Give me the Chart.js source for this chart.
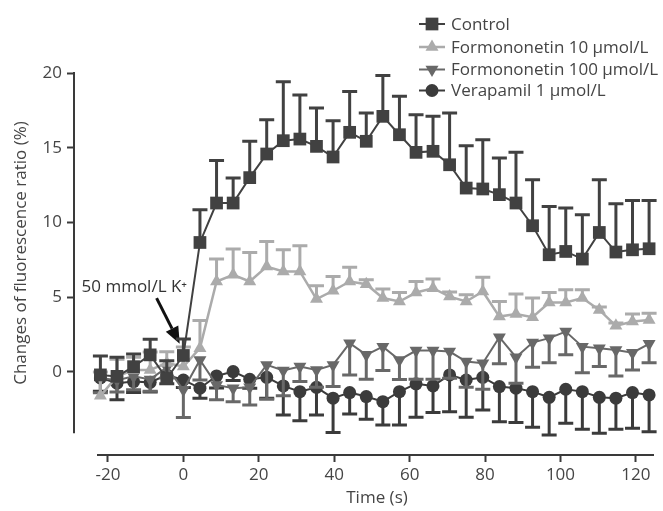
<!DOCTYPE html>
<html><head><meta charset="utf-8">
<script src="https://cdn.jsdelivr.net/npm/chart.js@4.4.1/dist/chart.umd.min.js"></script>
<style>html,body{margin:0;padding:0;background:#fff;}</style>
</head><body>
<canvas id="c" width="663" height="511"></canvas>
<script>
// ---- data ----
const timeSec = [-22.0,-17.6,-13.2,-8.8,-4.4,0,4.4,8.8,13.2,17.6,22.1,26.5,30.9,35.3,39.7,44.1,48.5,52.9,57.3,61.7,66.2,70.6,75.0,79.4,83.8,88.2,92.6,97.0,101.4,105.8,110.3,114.7,119.1,123.5];

const controlMean = [-0.2,-0.3,0.35,1.14,-0.45,1.1,8.66,11.3,11.3,13.0,14.58,15.47,15.58,15.09,14.38,16.03,15.43,17.1,15.87,14.69,14.76,13.86,12.3,12.24,11.86,11.3,9.78,7.84,8.06,7.55,9.33,8.02,8.17,8.24];
const controlErr  = [1.27,1.28,0.85,1.05,1.2,1.1,2.19,2.85,1.67,2.43,2.3,3.95,2.95,2.57,2.43,2.74,1.9,2.73,2.57,2.52,2.34,3.47,2.84,3.3,2.45,3.39,3.08,3.23,2.9,2.97,3.53,3.23,3.3,3.23];

const formo10Mean = [-1.6,-0.3,0.13,0.13,0.6,0.36,1.59,6.05,6.5,6.05,7.05,6.72,6.72,4.87,5.43,6.05,5.87,4.94,4.71,5.31,5.6,5.04,4.71,5.38,3.7,3.88,3.66,4.64,4.64,4.94,4.15,3.08,3.37,3.48];
const formo10Err  = [1.6,1.15,0.85,1.2,0.75,1.3,1.85,1.5,1.72,1.94,1.68,1.45,1.72,0.89,0.95,0.96,0.3,0.6,0.6,0.74,0.61,0.3,0.45,0.96,1.01,1.34,1.28,0.67,0.85,0.55,0.2,0.2,0.51,0.45];

const formo100Mean = [-0.4,-0.55,-0.3,-0.5,0.3,-1.2,0.8,-0.87,-1.09,-1.03,0.47,0.09,0.36,0.13,0.47,1.92,1.14,1.69,0.8,1.43,1.43,1.36,0.69,0.58,2.32,0.98,1.96,2.26,2.7,1.69,1.59,1.47,1.29,1.88];
const formo100Err  = [1.0,0.8,0.9,0.8,0.7,1.85,1.34,1.0,0.9,1.18,2.3,1.69,1.01,1.16,1.45,2.12,1.63,1.6,1.3,1.92,1.92,1.78,1.72,1.74,1.78,1.74,1.65,1.64,1.56,1.74,1.23,1.74,1.16,1.26];

const verapMean = [-0.4,-0.76,-0.65,-0.7,-0.2,-0.54,-1.09,-0.27,0.02,-0.49,-0.36,-0.94,-1.32,-1.03,-1.76,-1.38,-1.65,-1.99,-1.32,-0.8,-0.94,-0.2,-0.54,-0.36,-0.98,-1.09,-1.32,-1.7,-1.16,-1.32,-1.7,-1.76,-1.38,-1.54];
const verapErr  = [0.9,1.1,0.73,0.65,0.6,0.5,0.67,0.8,0.6,0.6,1.4,1.94,1.94,1.85,2.3,1.43,1.52,1.56,2.23,2.24,1.78,2.46,2.5,2.19,2.35,2.3,2.39,2.52,2.28,2.52,2.41,2.08,2.39,2.46];

const seriesNames = ['Control','Formononetin 10 µmol/L','Formononetin 100 µmol/L','Verapamil 1 µmol/L'];
const xTicks = [-20,0,20,40,60,80,100,120];
const yTicks = [0,5,10,15,20];
const xTitle = 'Time (s)';
const yTitle = 'Changes of fluorescence ratio (%)';
const stimLabel = '50 mmol/L K\u207A';

// ---- styling / layout ----
const FONT = "'Open Sans', sans-serif";
const TXT = '#454545';
const AX = '#3a3a3a';
const X_MIN = -29.0, X_MAX = 124.8, Y_MIN = -5.56, Y_MAX = 20;
const X_AXIS_START = -22.9, Y_AXIS_END = -4.1;

const styles = [
  {color:'#414141', pointStyle:'rect', radius:9, rotation:0, lw:2, dir:1},
  {color:'#ababab', pointStyle:'triangle', radius:7.5, rotation:0, lw:2.5, dir:1},
  {color:'#686868', pointStyle:'triangle', radius:7.5, rotation:180, lw:2, dir:-1},
  {color:'#3b3b3b', pointStyle:'circle', radius:6.5, rotation:0, lw:2, dir:-1}
];
const means = [controlMean, formo10Mean, formo100Mean, verapMean];
const errs = [controlErr, formo10Err, formo100Err, verapErr];

const datasets = seriesNames.map((name, s) => ({
  label: name,
  data: timeSec.map((t, i) => ({x: t, y: means[s][i]})),
  errs: errs[s],
  errDir: styles[s].dir,
  borderColor: styles[s].color,
  backgroundColor: styles[s].color,
  pointBackgroundColor: styles[s].color,
  pointBorderColor: styles[s].color,
  pointBorderWidth: 0,
  pointStyle: styles[s].pointStyle,
  pointRadius: styles[s].radius,
  pointRotation: styles[s].rotation,
  borderWidth: styles[s].lw,
  tension: 0,
  clip: false
}));

const errorBarPlugin = {
  id: 'errorBars',
  beforeDatasetDraw(chart, args) {
    const ds = chart.data.datasets[args.index];
    const ys = chart.scales.y;
    const ctx = chart.ctx;
    ctx.save();
    ctx.strokeStyle = ds.borderColor;
    ctx.lineWidth = 3;
    ctx.lineCap = 'butt';
    args.meta.data.forEach((pt, i) => {
      const v = ds.data[i].y + ds.errDir * ds.errs[i];
      const yEnd = ys.getPixelForValue(v);
      ctx.beginPath();
      ctx.moveTo(pt.x, pt.y);
      ctx.lineTo(pt.x, yEnd);
      ctx.moveTo(pt.x - 7.5, yEnd);
      ctx.lineTo(pt.x + 7.5, yEnd);
      ctx.stroke();
    });
    ctx.restore();
  }
};

function drawMarker(ctx, st, x, y) {
  ctx.save();
  ctx.fillStyle = st.color;
  ctx.strokeStyle = st.color;
  if (Chart.helpers && Chart.helpers.drawPoint) {
    Chart.helpers.drawPoint(ctx, {pointStyle: st.pointStyle, rotation: st.rotation, radius: st.radius, borderWidth: 0}, x, y);
  }
  ctx.restore();
}

const decorPlugin = {
  id: 'decor',
  beforeDatasetsDraw(chart) {
    const {ctx, chartArea, scales: {x, y}} = chart;
    ctx.save();
    ctx.strokeStyle = AX;
    ctx.lineWidth = 2;
    ctx.beginPath();
    ctx.moveTo(chartArea.left, y.getPixelForValue(Y_MAX) - 1);
    ctx.lineTo(chartArea.left, y.getPixelForValue(Y_AXIS_END));
    ctx.moveTo(x.getPixelForValue(X_AXIS_START), chartArea.bottom);
    ctx.lineTo(chartArea.right, chartArea.bottom);
    ctx.stroke();
    // axis titles
    ctx.fillStyle = TXT;
    ctx.font = "17px " + FONT;
    ctx.textAlign = 'center';
    ctx.textBaseline = 'middle';
    ctx.fillText(xTitle, 377, 498);
    ctx.save();
    ctx.translate(21, 253);
    ctx.rotate(-Math.PI / 2);
    ctx.fillText(yTitle, 0, 0);
    ctx.restore();
    // stimulus annotation
    ctx.font = "17px " + FONT;
    ctx.textAlign = 'left';
    ctx.fillStyle = '#333';
    ctx.fillText(stimLabel, x.getPixelForValue(-27.0), y.getPixelForValue(5.66));
    const x0 = x.getPixelForValue(-7.1), y0 = y.getPixelForValue(4.94);
    const x1 = x.getPixelForValue(-0.97), y1 = y.getPixelForValue(1.88);
    const ang = Math.atan2(y1 - y0, x1 - x0);
    const hl = 17, hw = 7;
    const bx = x1 - hl * Math.cos(ang), by = y1 - hl * Math.sin(ang);
    ctx.strokeStyle = '#111';
    ctx.fillStyle = '#111';
    ctx.lineWidth = 3;
    ctx.beginPath();
    ctx.moveTo(x0, y0);
    ctx.lineTo(bx, by);
    ctx.stroke();
    ctx.beginPath();
    ctx.moveTo(x1, y1);
    ctx.lineTo(bx + hw * Math.sin(ang), by - hw * Math.cos(ang));
    ctx.lineTo(bx - hw * Math.sin(ang), by + hw * Math.cos(ang));
    ctx.closePath();
    ctx.fill();
    ctx.restore();
  },
  afterDatasetsDraw(chart) {
    const ctx = chart.ctx;
    const rowY = [24, 47, 69.5, 90.5];
    ctx.save();
    seriesNames.forEach((name, s) => {
      const st = styles[s];
      ctx.strokeStyle = st.color;
      ctx.lineWidth = st.lw;
      ctx.beginPath();
      ctx.moveTo(419, rowY[s]);
      ctx.lineTo(445, rowY[s]);
      ctx.stroke();
      drawMarker(ctx, st, 432, rowY[s]);
      ctx.fillStyle = TXT;
      ctx.font = "17px " + FONT;
      ctx.textAlign = 'left';
      ctx.textBaseline = 'middle';
      ctx.fillText(name, 451, rowY[s] + 1);
    });
    ctx.restore();
  }
};

new Chart(document.getElementById('c'), {
  type: 'line',
  data: {datasets},
  plugins: [errorBarPlugin, decorPlugin],
  options: {
    responsive: false,
    animation: false,
    devicePixelRatio: 1,
    layout: {padding: {top: 73, right: 3, left: 0, bottom: 0}},
    plugins: {legend: {display: false}, tooltip: {enabled: false}, title: {display: false}},
    scales: {
      x: {
        type: 'linear', min: X_MIN, max: X_MAX,
        afterFit: s => { s.height = 56; },
        afterBuildTicks: s => { s.ticks = xTicks.map(v => ({value: v})); },
        border: {display: false},
        grid: {display: true, drawOnChartArea: false, drawTicks: true, tickLength: 7, tickWidth: 2, tickColor: AX},
        ticks: {padding: 3, color: TXT, font: {family: FONT, size: 17}, callback: v => String(v), maxRotation: 0, autoSkip: false}
      },
      y: {
        type: 'linear', min: Y_MIN, max: Y_MAX,
        afterFit: s => { s.width = 74; },
        afterBuildTicks: s => { s.ticks = yTicks.map(v => ({value: v})); },
        border: {display: false},
        grid: {display: true, drawOnChartArea: false, drawTicks: true, tickLength: 7, tickWidth: 2, tickColor: AX},
        ticks: {padding: 5, color: TXT, font: {family: FONT, size: 17}, callback: v => String(v), autoSkip: false}
      }
    }
  }
});
</script>
</body></html>
